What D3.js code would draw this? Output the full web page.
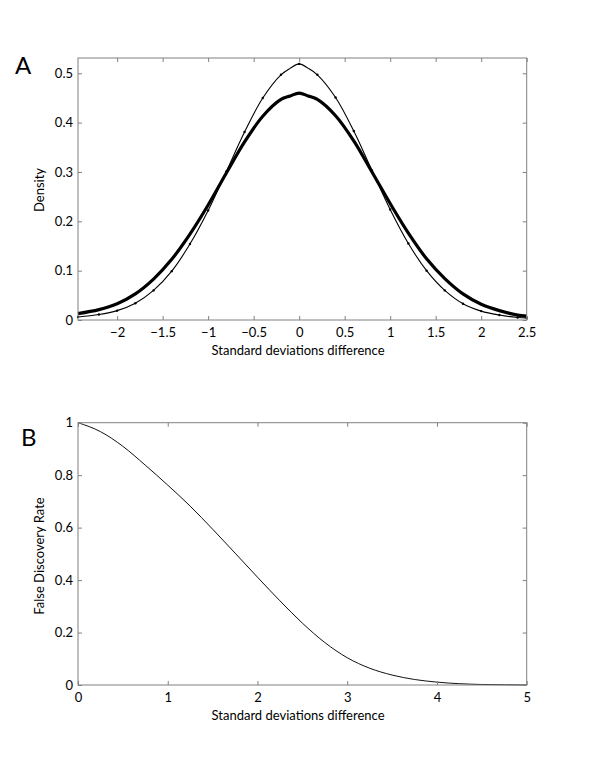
<!DOCTYPE html>
<html><head><meta charset="utf-8">
<script src="https://cdn.jsdelivr.net/npm/d3@7"></script>
<style>
body{margin:0;background:#fff}
text{font-family:Lato,"Open Sans",sans-serif;fill:#000}
</style>
</head><body>
<svg id="c" width="600" height="770"></svg>
<script>
// ---- Panel A data ----
const densityX     = [-2.43,-2.2,-2.0,-1.8,-1.6,-1.4,-1.2,-1.0,-0.8,-0.6,-0.4,-0.2,-0.1,0,0.1,0.2,0.4,0.6,0.8,1.0,1.2,1.4,1.6,1.8,2.0,2.2,2.4,2.5];
const densityThick = [0.013,0.021,0.033,0.053,0.083,0.123,0.174,0.233,0.298,0.361,0.413,0.447,0.454,0.460,0.454,0.447,0.414,0.363,0.300,0.236,0.176,0.124,0.084,0.053,0.032,0.019,0.010,0.008];
const densityThin  = [0.006,0.011,0.019,0.034,0.060,0.099,0.154,0.222,0.301,0.381,0.450,0.497,0.510,0.519,0.510,0.497,0.451,0.383,0.303,0.224,0.155,0.100,0.060,0.033,0.018,0.010,0.005,0.004];
const aXTicks = [-2,-1.5,-1,-0.5,0,0.5,1,1.5,2,2.5];
const aXTickLabels = ["\u22122","\u22121.5","\u22121","\u22120.5","0","0.5","1","1.5","2","2.5"];
const aYTicks = [0,0.1,0.2,0.3,0.4,0.5];
const aYTickLabels = ["0","0.1","0.2","0.3","0.4","0.5"];

// ---- Panel B data ----
const fdrX = [0,0.25,0.5,0.75,1.0,1.25,1.5,1.75,2.0,2.25,2.5,2.75,3.0,3.25,3.5,3.75,4.0,4.25,4.5,4.75,5.0];
const fdrY = [1.000,0.966,0.910,0.838,0.762,0.682,0.594,0.503,0.411,0.321,0.236,0.162,0.104,0.064,0.038,0.021,0.011,0.005,0.002,0.001,0.000];
const bXTicks = [0,1,2,3,4,5];
const bXTickLabels = ["0","1","2","3","4","5"];
const bYTicks = [0,0.2,0.4,0.6,0.8,1];
const bYTickLabels = ["0","0.2","0.4","0.6","0.8","1"];

const svg = d3.select("#c");
const AXC = "#808080";
const TF = 13;

function frame(g, x, y, xt, xl, yt, yl){
  const [x0,x1] = x.range(), [y0,y1] = y.range();
  const ax = (sel)=>{sel.select(".domain").remove();sel.selectAll(".tick line").attr("stroke",AXC);sel.selectAll("text").attr("font-size",TF).attr("fill","#000");};
  g.append("g").attr("transform",`translate(0,${y0})`)
    .call(d3.axisBottom(x).tickValues(xt).tickFormat((d,i)=>xl[i]).tickSize(-4).tickPadding(8)).call(ax);
  g.append("g").attr("transform",`translate(0,${y1})`)
    .call(d3.axisTop(x).tickValues(xt).tickFormat("").tickSize(-4)).call(ax);
  g.append("g").attr("transform",`translate(${x0},0)`)
    .call(d3.axisLeft(y).tickValues(yt).tickFormat((d,i)=>yl[i]).tickSize(-4).tickPadding(5)).call(ax);
  g.append("g").attr("transform",`translate(${x1},0)`)
    .call(d3.axisRight(y).tickValues(yt).tickFormat("").tickSize(-4)).call(ax);
  g.append("rect").attr("x",x0).attr("y",y1).attr("width",x1-x0).attr("height",y0-y1)
    .attr("fill","none").attr("stroke",AXC).attr("stroke-width",1);
}

// ---- Panel A ----
const xA = d3.scaleLinear().domain([-2.43,2.5]).range([78,526.7]);
const yA = d3.scaleLinear().domain([0,0.531]).range([320,58]);
const gA = svg.append("g");
const ptsThick = densityX.map((x,i)=>[x,densityThick[i]]);
const ptsThin = densityX.map((x,i)=>[x,densityThin[i]]);
const lineA = d3.line().x(d=>xA(d[0])).y(d=>yA(d[1])).curve(d3.curveCatmullRom);
gA.append("path").attr("d",lineA(ptsThick)).attr("fill","none").attr("stroke","#000").attr("stroke-width",3.2).attr("stroke-linejoin","round");
gA.append("path").attr("d",lineA(ptsThin)).attr("fill","none").attr("stroke","#000").attr("stroke-width",1.1);
gA.selectAll("circle.m").data(ptsThin.filter(d=>Math.abs(d[0])!==0.1)).join("circle")
  .attr("cx",d=>xA(d[0])).attr("cy",d=>yA(d[1])).attr("r",1.2).attr("fill","#000");
frame(gA,xA,yA,aXTicks,aXTickLabels,aYTicks,aYTickLabels);
gA.append("text").attr("x",298).attr("y",355).attr("text-anchor","middle").attr("font-size",13).text("Standard deviations difference");
gA.append("text").attr("transform","translate(44,190) rotate(-90)").attr("text-anchor","middle").attr("font-size",13).text("Density");
gA.append("text").attr("x",15).attr("y",74).attr("font-size",24).text("A");

// ---- Panel B ----
const xB = d3.scaleLinear().domain([0,5]).range([78,526.7]);
const yB = d3.scaleLinear().domain([0,1]).range([685,422.7]);
const gB = svg.append("g");
const lineB = d3.line().x((d,i)=>xB(fdrX[i])).y(d=>yB(d)).curve(d3.curveMonotoneX);
gB.append("path").attr("d",lineB(fdrY)).attr("fill","none").attr("stroke","#111").attr("stroke-width",1);
frame(gB,xB,yB,bXTicks,bXTickLabels,bYTicks,bYTickLabels);
gB.append("text").attr("x",298).attr("y",720).attr("text-anchor","middle").attr("font-size",13).text("Standard deviations difference");
gB.append("text").attr("transform","translate(44,556) rotate(-90)").attr("text-anchor","middle").attr("font-size",13).text("False Discovery Rate");
gB.append("text").attr("x",21).attr("y",446).attr("font-size",24).text("B");
</script>
</body></html>
